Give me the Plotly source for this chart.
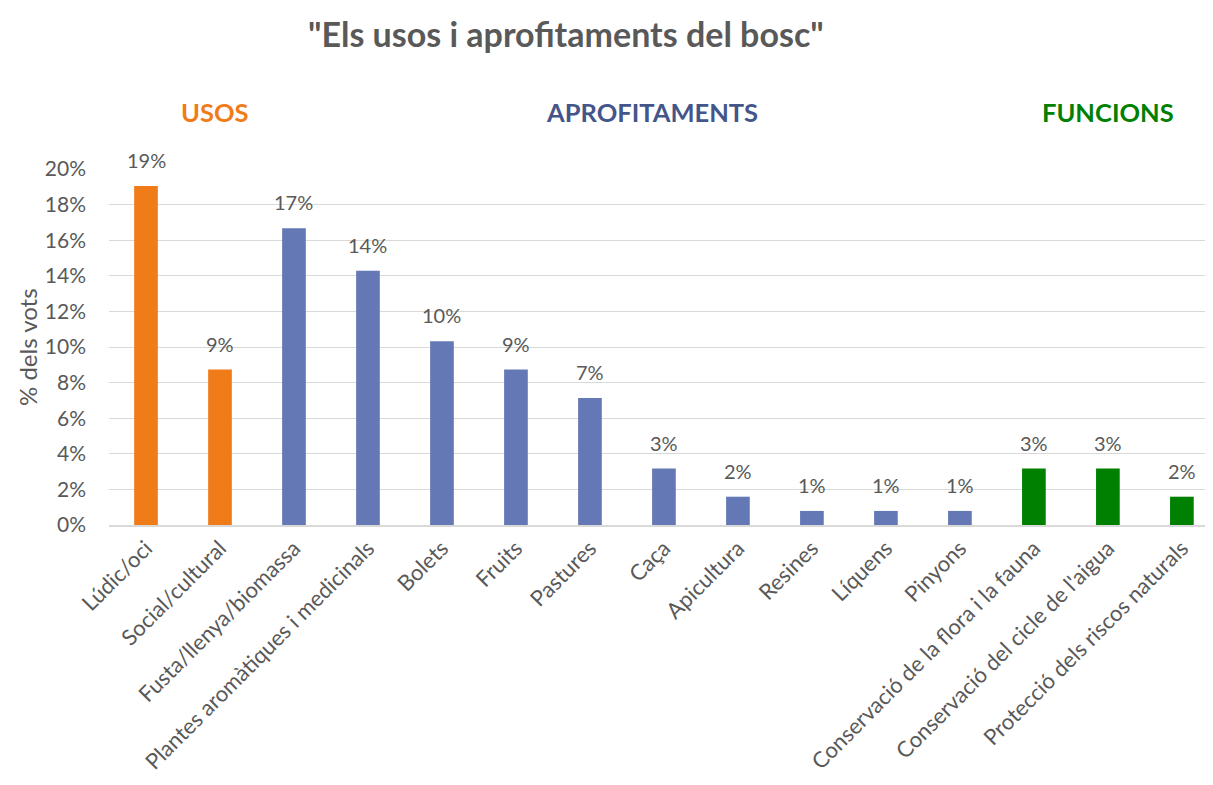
import plotly.graph_objects as go

categories = ["Lúdic/oci", "Social/cultural", "Fusta/llenya/biomassa",
              "Plantes aromàtiques i medicinals", "Bolets", "Fruits", "Pastures",
              "Caça", "Apicultura", "Resines", "Líquens", "Pinyons",
              "Conservació de la flora i la fauna", "Conservació del cicle de l'aigua",
              "Protecció dels riscos naturals"]
values = [19.05, 8.73, 16.67, 14.29, 10.32, 8.73, 7.14, 3.17, 1.59, 0.79, 0.79, 0.79,
          3.17, 3.17, 1.59]
groups = ["USOS"] * 2 + ["APROFITAMENTS"] * 10 + ["FUNCIONS"] * 3
group_colors = {"USOS": "#F07C19", "APROFITAMENTS": "#6378B4", "FUNCIONS": "#008000"}
header_colors = {"USOS": "#F07C19", "APROFITAMENTS": "#44558A", "FUNCIONS": "#008000"}
yticks = [0, 2, 4, 6, 8, 10, 12, 14, 16, 18, 20]

FONT = "Lato"
GRAY = "#595959"

fig = go.Figure(go.Bar(
    x=categories, y=values,
    marker=dict(color=[group_colors[g] for g in groups], line=dict(width=0)),
    width=0.32,
    cliponaxis=False,
))

fig.update_layout(
    width=1205, height=777,
    margin=dict(l=101, r=3, t=161, b=260, autoexpand=False),
    paper_bgcolor="white", plot_bgcolor="white",
    font=dict(family=FONT, color=GRAY),
    showlegend=False,
    xaxis=dict(range=[-0.5, 14.38], tickangle=-45, tickfont=dict(size=22, color=GRAY),
               showgrid=False, showline=True, linecolor="#D9D9D9", linewidth=1.5,
               ticks="", automargin=False),
    yaxis=dict(range=[0, 20], tickvals=yticks, ticktext=[f"{v}%" for v in yticks],
               tickfont=dict(size=21, color=GRAY), gridcolor="#D9D9D9", gridwidth=1.2,
               zeroline=False, ticklabelstandoff=22, automargin=False),
)

ann = [
    dict(text='<b>"Els usos i aprofitaments del bosc"</b>', x=0.415, y=1.38,
         font=dict(size=34, color=GRAY, family=FONT)),
    dict(text="% dels vots", x=-0.0745, y=0.5, textangle=-90,
         font=dict(size=24, color=GRAY, family=FONT)),
]
for g, xp in [("USOS", 0.0963), ("APROFITAMENTS", 0.493), ("FUNCIONS", 0.907)]:
    ann.append(dict(text=f"<b>{g}</b>", x=xp, y=1.16,
                    font=dict(size=25.5, color=header_colors[g], family=FONT)))
for a in ann:
    a.update(xref="paper", yref="paper", showarrow=False, xanchor="center", yanchor="middle")
for c, v in zip(categories, values):
    ann.append(dict(text=f"{v:.0f}%", x=c, y=v, xref="x", yref="y", showarrow=False,
                    yanchor="bottom", yshift=12,
                    font=dict(size=20, color=GRAY, family=FONT)))
fig.update_layout(annotations=ann)

fig.write_html("out.html")
